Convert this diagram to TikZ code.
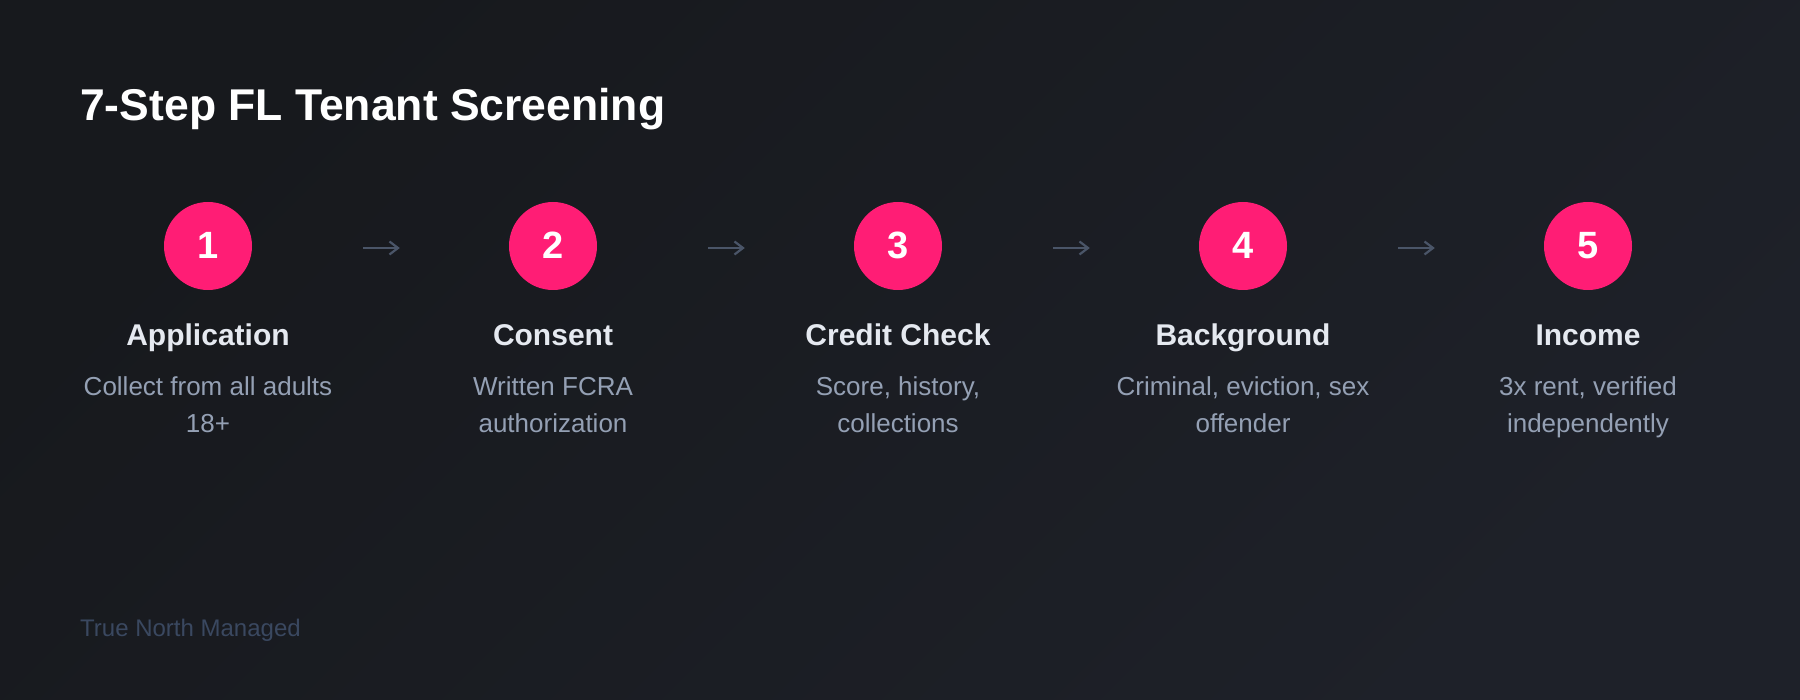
\documentclass[tikz,border=0pt]{standalone}
\usepackage{fontspec}
\setmainfont{Liberation Sans}
\usetikzlibrary{arrows.meta}
\definecolor{bgA}{HTML}{17191D}
\definecolor{bgB}{HTML}{1E2129}
\definecolor{pinkC}{HTML}{FF1D75}
\definecolor{titleC}{HTML}{E5E9F0}
\definecolor{descC}{HTML}{94A0B4}
\definecolor{arrC}{HTML}{4A5568}
\definecolor{footC}{HTML}{3A4860}
\tikzset{
  numcirc/.style={circle, fill=pinkC, minimum size=88pt, inner sep=0pt},
  digit/.style={text=white, font=\fontsize{38}{45}\selectfont\bfseries, anchor=base, inner sep=0pt},
  stitle/.style={text=titleC, font=\fontsize{30}{36}\selectfont\bfseries, anchor=base, inner sep=0pt},
  desc/.style={text=descC, font=\fontsize{26}{31}\selectfont, anchor=base, inner sep=0pt},
  flow/.style={draw=arrC, line width=1.8pt, -{Straight Barb[length=8.5pt,width=13pt,line width=2.2pt]}, shorten <=111pt, shorten >=109pt},
}
\begin{document}
\begin{tikzpicture}[x=1pt,y=-1pt]
\useasboundingbox (0,0) rectangle (1800,700);
\shade[top color=bgA, bottom color=bgB, shading angle=45] (0,0) rectangle (1800,700);

\node[anchor=base west, inner sep=0pt, text=white, font=\fontsize{44.5}{53}\selectfont\bfseries] (title) at (80,121) {7-Step FL Tenant Screening};

% circles
\node[numcirc] (c1) at (208,246) {};
\node[numcirc] (c2) at (553,246) {};
\node[numcirc] (c3) at (898,246) {};
\node[numcirc] (c4) at (1243,246) {};
\node[numcirc] (c5) at (1588,246) {};

\node[digit] (d1) at (208,259) {1};
\node[digit] (d2) at (553,259) {2};
\node[digit] (d3) at (898,259) {3};
\node[digit] (d4) at (1243,259) {4};
\node[digit] (d5) at (1588,259) {5};

% connectors
\draw[flow] ([yshift=-2pt]c1.east) -- ([yshift=-2pt]c2.west);
\draw[flow] ([yshift=-2pt]c2.east) -- ([yshift=-2pt]c3.west);
\draw[flow] ([yshift=-2pt]c3.east) -- ([yshift=-2pt]c4.west);
\draw[flow] ([yshift=-2pt]c4.east) -- ([yshift=-2pt]c5.west);

% step titles
\node[stitle] (t1) at (208,346) {Application};
\node[stitle] (t2) at (553,346) {Consent};
\node[stitle] (t3) at (898,346) {Credit Check};
\node[stitle] (t4) at (1243,346) {Background};
\node[stitle] (t5) at (1588,346) {Income};

% descriptions
\node[desc] (a1) at (208,396) {Collect from all adults};
\node[desc] (b1) at (208,433) {18+};
\node[desc] (a2) at (553,396) {Written FCRA};
\node[desc] (b2) at (553,433) {authorization};
\node[desc] (a3) at (898,396) {Score, history,};
\node[desc] (b3) at (898,433) {collections};
\node[desc] (a4) at (1243,396) {Criminal, eviction, sex};
\node[desc] (b4) at (1243,433) {offender};
\node[desc] (a5) at (1588,396) {3x rent, verified};
\node[desc] (b5) at (1588,433) {independently};

\node[anchor=base west, inner sep=0pt, text=footC, font=\fontsize{24}{29}\selectfont] (foot) at (80,636) {True North Managed};
\end{tikzpicture}
\end{document}
